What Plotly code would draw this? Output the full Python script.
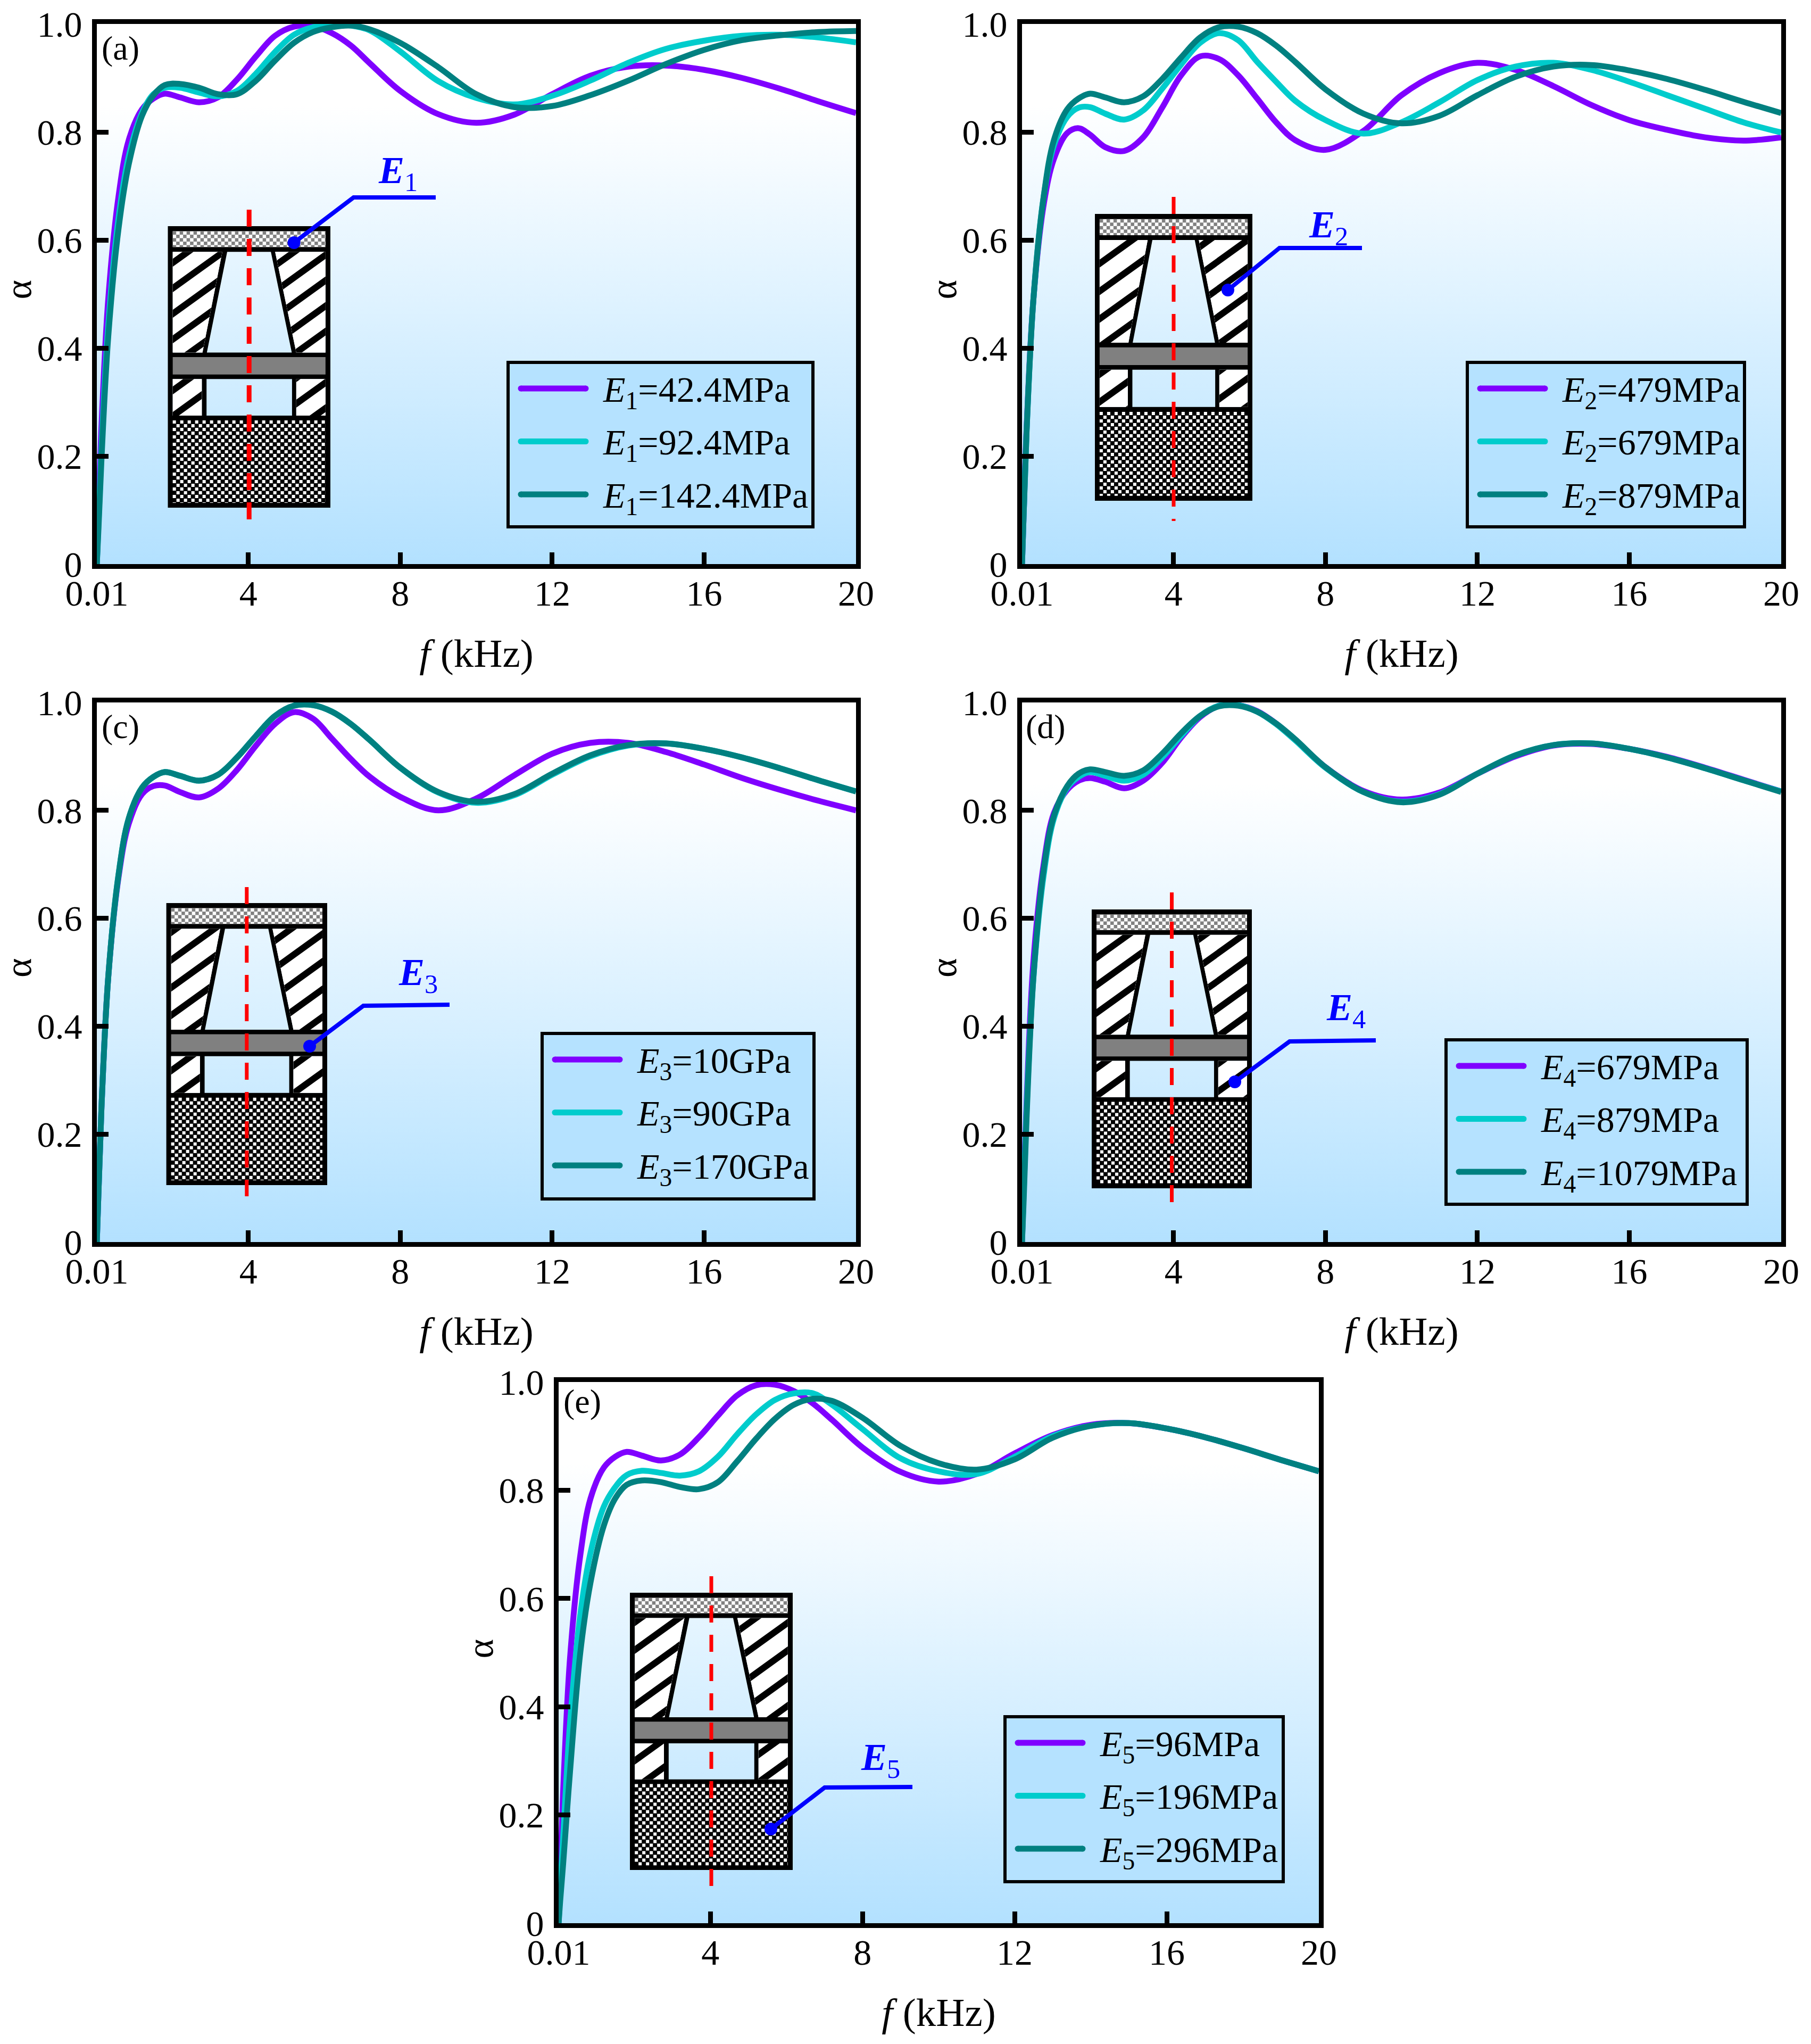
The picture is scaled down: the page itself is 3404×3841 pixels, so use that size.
import plotly.graph_objects as go

W, H = 3404, 3841
PAGE_MARGIN = 8  # the page's default body margin shifts the figure by this much
FONT = "Liberation Serif"
PURPLE, CYAN, TEAL = "#7f00ff", "#00cccc", "#008080"

F = [0.01,0.05,0.13,0.31,0.58,0.85,1.2,1.5,1.8,2.2,2.7,3.2,3.7,4.2,4.7,5.2,5.7,6.2,6.7,7.2,8,9,10,11,12,13,14,15,16,17,18,19,20]
XTICKS = [0.01, 4, 8, 12, 16, 20]
XTICKTEXT = ["0.01", "4", "8", "12", "16", "20"]
YTICKS = [0, 0.2, 0.4, 0.6, 0.8, 1.0]
YTICKTEXT = ["0", "0.2", "0.4", "0.6", "0.8", "1.0"]

BASE = [0,.085,.245,.49,.68,.785,.842,.862,.871,.864,.855,.866,.898,.938,.975,.994,.995,.983,.96,.93,.879,.834,.816,.83,.868,.902,.921,.924,.914,.898,.878,.856,.835]

A1 = [0,.085,.25,.49,.68,.785,.842,.862,.871,.864,.855,.864,.897,.94,.978,.995,.996,.983,.96,.927,.876,.833,.817,.832,.87,.904,.921,.923,.915,.90,.88,.857,.835]
A2 = [0,.07,.21,.44,.64,.755,.835,.87,.882,.882,.873,.866,.876,.908,.948,.98,.994,.998,.997,.988,.949,.894,.863,.851,.867,.895,.928,.954,.969,.978,.98,.975,.966]
A3 = [0,.06,.19,.42,.62,.74,.83,.868,.887,.889,.882,.87,.87,.895,.932,.965,.985,.994,.997,.99,.965,.92,.87,.846,.848,.868,.895,.926,.952,.97,.979,.985,.987]

B1 = [0,.085,.25,.49,.665,.75,.798,.807,.795,.772,.765,.79,.845,.905,.94,.935,.905,.862,.818,.785,.767,.802,.868,.909,.928,.915,.885,.85,.822,.804,.79,.784,.79]
B2 = [0,.085,.245,.49,.68,.775,.828,.845,.846,.834,.823,.84,.88,.925,.965,.983,.97,.93,.893,.858,.822,.797,.818,.855,.896,.921,.928,.915,.893,.868,.843,.818,.799]
B3 = BASE

C1 = [0,.085,.245,.49,.675,.775,.83,.845,.846,.834,.824,.84,.875,.92,.96,.982,.97,.933,.895,.862,.825,.80,.822,.865,.905,.925,.925,.908,.885,.86,.838,.818,.80]
C2 = [0,.085,.245,.49,.68,.785,.842,.862,.871,.864,.855,.866,.898,.938,.975,.994,.995,.983,.96,.93,.879,.833,.814,.828,.866,.90,.92,.924,.914,.898,.878,.856,.835]
C3 = BASE

D1 = [0,.10,.26,.52,.70,.795,.838,.855,.86,.853,.841,.855,.888,.935,.973,.994,.995,.984,.961,.931,.88,.836,.82,.833,.868,.90,.92,.923,.914,.899,.879,.857,.835]
D2 = BASE
D3 = [0,.07,.23,.49,.69,.79,.845,.868,.876,.871,.864,.874,.905,.943,.975,.993,.994,.983,.961,.932,.88,.834,.815,.829,.868,.902,.921,.924,.914,.898,.878,.856,.834]

E1 = BASE
E2 = [0,.06,.16,.37,.57,.685,.77,.806,.828,.836,.832,.827,.835,.862,.903,.94,.967,.979,.979,.958,.913,.859,.835,.83,.862,.90,.919,.924,.914,.898,.878,.856,.835]
E3 = [0,.04,.11,.28,.50,.63,.735,.785,.81,.818,.815,.806,.802,.815,.853,.895,.932,.958,.969,.965,.934,.882,.85,.838,.857,.897,.919,.924,.914,.898,.878,.856,.835]

for s in (A1,A2,A3,B1,B2,B3,C1,C2,C3,D1,D2,D3,E1,E2,E3):
    assert len(s) == len(F)

PANELS = [
    dict(tag="(a)", tagdy=45, box=(182,1609,45,1060), series=[A1,A2,A3],
         names=["42.4MPa","92.4MPa","142.4MPa"], sym=1,
         legend=(955,681,1528,990), inset=(315.5,621,425,954), slope=.72, period=48, thick=15, red=(394,976,9),
         leader=((552.6,456),(664.6,371),(819,371)), lab=(748,325)),
    dict(tag="", tagdy=45, box=(1921,3348,45,1060), series=[B1,B2,B3],
         names=["479MPa","679MPa","879MPa"], sym=2,
         legend=(2758,681,3279,990), inset=(2058,2354,402,941), slope=.72, period=52, thick=15, red=(370,979,7),
         leader=((2308,545),(2405,466),(2560,466)), lab=(2497,427)),
    dict(tag="(c)", tagdy=45, box=(182,1609,1320,2334), series=[C1,C2,C3],
         names=["10GPa","90GPa","170GPa"], sym=3,
         legend=(1019,1942,1530,2253), inset=(312.6,615,1697,2227), slope=.72, period=52, thick=15, red=(1667,2248,7),
         leader=((582,1966),(683,1890),(845,1888)), lab=(786,1832)),
    dict(tag="(d)", tagdy=45, box=(1921,3348,1320,2334), series=[D1,D2,D3],
         names=["679MPa","879MPa","1079MPa"], sym=4,
         legend=(2718,1954,3284,2263), inset=(2052,2353,1709,2233), slope=.72, period=52, thick=15, red=(1677,2265,7),
         leader=((2321,2033),(2424,1957),(2586,1955)), lab=(2530,1898)),
    dict(tag="(e)", tagdy=36, box=(1050,2479,2597,3614), series=[E1,E2,E3],
         names=["96MPa","196MPa","296MPa"], sym=5,
         legend=(1889,3226,2412,3536), inset=(1184,1490,2993,3514), slope=.72, period=52, thick=15, red=(2962,3550,7),
         leader=((1449,3437),(1550,3359),(1715,3358)), lab=(1655,3307)),
]

px = lambda x: (x - PAGE_MARGIN) / W
py = lambda y: 1 - (y - PAGE_MARGIN) / H

def pt(x, y):
    return f"{px(x):.6f},{py(y):.6f}"

def poly(points):
    return "M" + " L".join(pt(x, y) for x, y in points) + " Z"

def rect(x0, y0, x1, y1):
    return poly([(x0,y0),(x1,y0),(x1,y1),(x0,y1)])

def clip(points, a, b, c):
    """Keep the part of a polygon where a*x + b*y <= c."""
    out = []
    for i, p in enumerate(points):
        q = points[(i + 1) % len(points)]
        dp, dq = a*p[0]+b*p[1]-c, a*q[0]+b*q[1]-c
        if dp <= 0:
            out.append(p)
        if dp * dq < 0:
            t = dp / (dp - dq)
            out.append((p[0]+t*(q[0]-p[0]), p[1]+t*(q[1]-p[1])))
    return out

def hatch(region, slope, period, thick):
    """Rising stripes inside a convex region, as one path string."""
    xs = [p[0] for p in region]; ys = [p[1] for p in region]
    lo = min(y + slope*x for x, y in zip(xs, ys))
    hi = max(y + slope*x for x, y in zip(xs, ys))
    d = ""
    k = int(lo // period) - 1
    while k * period < hi:
        c0 = k * period
        s = clip(clip(region, slope, 1, c0 + thick), -slope, -1, -c0)
        if len(s) >= 3:
            d += poly(s)
        k += 1
    return d

def checker(x0, y0, x1, y1, cell, inset=0.0):
    d = ""
    ny = int((y1 - y0) / cell) + 1
    nx = int((x1 - x0) / cell) + 1
    for j in range(ny):
        for i in range(nx):
            if (i + j) % 2 == 0:
                xa, ya = x0 + i*cell, y0 + j*cell
                xb, yb = min(xa + cell - inset, x1), min(ya + cell - inset, y1)
                if xb > xa and yb > ya:
                    d += rect(xa, ya, xb, yb)
    return d

def path_shape(d, fill=None, line=None, width=0, dash=None):
    s = dict(type="path", xref="paper", yref="paper", path=d, layer="above", fillrule="nonzero")
    s["fillcolor"] = fill if fill else "rgba(0,0,0,0)"
    s["line"] = dict(color=line if line else "rgba(0,0,0,0)", width=width)
    if dash:
        s["line"]["dash"] = dash
    return s

def dot(x, y, r, color):
    return dict(type="circle", xref="paper", yref="paper", layer="above",
                x0=px(x-r), x1=px(x+r), y0=py(y+r), y1=py(y-r),
                fillcolor=color, line=dict(width=0))

def inset_shapes(p):
    x0, x1, y0, y1 = p["inset"]
    w, h = x1 - x0, y1 - y0
    X = lambda u: x0 + u * w
    Y = lambda v: y0 + v * h
    BLACK, GRAY, WHITE = "#000000", "#808080", "#ffffff"
    out = []
    black = (rect(x0,y0,x1,Y(.091)) + rect(x0,Y(.449),x1,Y(.543)) + rect(x0,Y(.673),x1,y1)
             + rect(x0,Y(.091),X(.03),Y(.673)) + rect(X(.97),Y(.091),x1,Y(.673))
             + poly([(X(.335),Y(.091)),(X(.365),Y(.091)),(X(.24),Y(.449)),(X(.213),Y(.449))])
             + poly([(X(.634),Y(.091)),(X(.66),Y(.091)),(X(.79),Y(.449)),(X(.7625),Y(.449))])
             + rect(X(.209),Y(.543),X(.238),Y(.673)) + rect(X(.764),Y(.543),X(.79),Y(.673)))
    out.append(path_shape(black, fill=BLACK))
    out.append(path_shape(rect(X(.03),Y(.018),X(.97),Y(.074)), fill=WHITE))
    out.append(path_shape(checker(X(.03),Y(.018),X(.97),Y(.074),6.5), fill=GRAY))
    regions = [
        [(X(.03),Y(.091)),(X(.335),Y(.091)),(X(.213),Y(.449)),(X(.03),Y(.449))],
        [(X(.66),Y(.091)),(X(.97),Y(.091)),(X(.97),Y(.449)),(X(.79),Y(.449))],
        [(X(.03),Y(.543)),(X(.209),Y(.543)),(X(.209),Y(.673)),(X(.03),Y(.673))],
        [(X(.79),Y(.543)),(X(.97),Y(.543)),(X(.97),Y(.673)),(X(.79),Y(.673))],
    ]
    for r in regions:
        out.append(path_shape(poly(r), fill=WHITE))
        out.append(path_shape(hatch(r, p["slope"], p["period"], p["thick"]), fill=BLACK))
    out.append(path_shape(rect(X(.03),Y(.465),X(.97),Y(.527)), fill=GRAY))
    out.append(path_shape(checker(X(.03),Y(.69),X(.97),Y(.983),7,1.0), fill=WHITE))
    cx = (x0 + x1) / 2
    ya, yb, rw = p["red"]
    out.append(path_shape(f"M{pt(cx,ya)} L{pt(cx,yb)}", line="#ff0000", width=rw, dash="32px,23px"))
    a, b, c = p["leader"]
    out.append(path_shape(f"M{pt(*a)} L{pt(*b)} L{pt(*c)}", line="#0000ff", width=8))
    out.append(dot(a[0], a[1], 12, "#0000ff"))
    return out

def legend_parts(p):
    lx0, ly0, lx1, ly1 = p["legend"]
    sh = [dict(type="rect", xref="paper", yref="paper", layer="above",
               x0=px(lx0), x1=px(lx1), y0=py(ly1), y1=py(ly0),
               fillcolor="#b5e2ff", line=dict(color="black", width=6))]
    an = []
    for k, (name, col) in enumerate(zip(p["names"], (PURPLE, CYAN, TEAL))):
        ry = ly0 + 49 + k * 99.5
        sh.append(path_shape(rect(lx0+24, ry-5.5, lx0+146, ry+5.5), fill=col))
        sh.append(dot(lx0+24, ry, 5.5, col))
        sh.append(dot(lx0+146, ry, 5.5, col))
        an.append(dict(xref="paper", yref="paper", x=px(lx0+176), y=py(ry+6), text=f"<i>E</i><sub>{p['sym']}</sub>={name}",
                       showarrow=False, xanchor="left", yanchor="middle",
                       font=dict(family=FONT, size=68, color="black")))
    return sh, an

fig = go.Figure()
layout = dict(width=W, height=H, margin=dict(l=0, r=0, t=0, b=0, autoexpand=False), autosize=False,
              paper_bgcolor="white", plot_bgcolor="white", showlegend=False,
              font=dict(family=FONT, size=66, color="black"))
shapes, annotations = [], []

for i, p in enumerate(PANELS):
    n = "" if i == 0 else str(i + 1)
    xname, yname = "x" + n, "y" + n
    x0, x1, y0, y1 = p["box"]
    axis_common = dict(showline=True, mirror=True, linecolor="black", linewidth=9, automargin=False,
                       ticks="inside", ticklen=22, tickwidth=9, tickcolor="black",
                       showgrid=False, zeroline=False, ticklabeloverflow="allow",
                       tickfont=dict(family=FONT, size=68, color="black"))
    layout["xaxis" + n] = dict(axis_common, domain=[px(x0), px(x1)], range=[0.01, 20], anchor=yname,
                               tickmode="array", tickvals=XTICKS, ticktext=XTICKTEXT, ticklabelstandoff=-13,
                               title=dict(text="<i>f</i> (kHz)", font=dict(family=FONT, size=75), standoff=52))
    layout["yaxis" + n] = dict(axis_common, domain=[py(y1), py(y0)], range=[0, 1], anchor=xname,
                               tickmode="array", tickvals=YTICKS, ticktext=YTICKTEXT, ticklabelstandoff=5)
    fig.add_trace(go.Scatter(x=[0.01, 20, 20, 0.01, 0.01], y=[0, 0, 1, 1, 0], mode="lines", fill="toself",
                             line=dict(width=0), xaxis=xname, yaxis=yname, showlegend=False, hoverinfo="skip",
                             fillgradient=dict(type="vertical",
                                               colorscale=[[0, "#b3e1ff"], [0.85, "#ffffff"], [1, "#ffffff"]])))
    for vals, name, col in zip(p["series"], p["names"], (PURPLE, CYAN, TEAL)):
        fig.add_trace(go.Scatter(x=F, y=vals, mode="lines", xaxis=xname, yaxis=yname,
                                 line=dict(color=col, width=11, shape="spline", smoothing=1),
                                 name=f"<i>E</i><sub>{p['sym']}</sub>={name}"))
    shapes += inset_shapes(p)
    ls, la = legend_parts(p)
    shapes += ls
    annotations += la
    # the y title sits closer to the page edge than an axis title may in panels (a) and (c)
    annotations.append(dict(xref="paper", yref="paper", x=px(x0 - 148), y=py((y0 + y1) / 2 - 8), text="α",
                            showarrow=False, xanchor="center", yanchor="middle", textangle=-90,
                            font=dict(family=FONT, size=70, color="black")))
    if p["tag"]:
        annotations.append(dict(xref="paper", yref="paper", x=px(x0 + 44), y=py(y0 + p["tagdy"]), text=p["tag"],
                                showarrow=False, xanchor="center", yanchor="middle",
                                font=dict(family=FONT, size=64, color="black")))
    annotations.append(dict(xref="paper", yref="paper", x=px(p["lab"][0]), y=py(p["lab"][1]),
                            text=f"<b><i>E</i></b><sub>{p['sym']}</sub>", showarrow=False,
                            xanchor="center", yanchor="middle",
                            font=dict(family=FONT, size=72, color="#0000ff")))

layout["shapes"] = shapes
layout["annotations"] = annotations
fig.update_layout(**layout)
fig.write_html("out.html")
